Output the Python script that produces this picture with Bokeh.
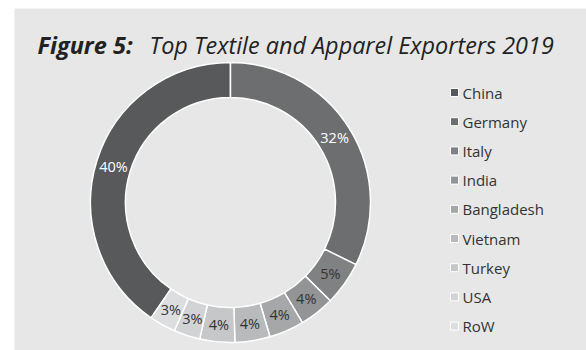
import numpy as np
from bokeh.plotting import figure
from bokeh.models import Range1d, ColumnDataSource
from bokeh.core.properties import value
from bokeh.embed import file_html
from bokeh.resources import INLINE

# ---- data ----
countries = ["China", "Germany", "Italy", "India", "Bangladesh", "Vietnam", "Turkey", "USA", "RoW"]
shares = [40, 32, 5, 4, 4, 4, 4, 3, 3]
labels = ["40%", "32%", "5%", "4%", "4%", "4%", "4%", "3%", "3%"]
colors = ["#58595b", "#6d6e70", "#808183", "#939496", "#a6a7a9",
          "#b9babc", "#c6c7c9", "#d2d3d5", "#dddee0"]
label_colors = ["white", "white", "#333333", "#333333", "#333333",
                "#333333", "#333333", "#333333", "#333333"]
title_bold = "Figure 5:"
title_rest = "Top Textile and Apparel Exporters 2019"

FONT = "Open Sans"
W, H = 586, 350

p = figure(width=W, height=H, output_backend="svg", toolbar_location=None,
           x_range=Range1d(14, W), y_range=Range1d(0, H - 8),
           min_border_left=14, min_border_top=8, min_border_right=0, min_border_bottom=0)
p.border_fill_color = "white"
p.background_fill_color = "#e6e7e6"
p.outline_line_color = None
p.xaxis.visible = False
p.yaxis.visible = False
p.grid.visible = False

# donut geometry (1 data unit = 1 px)
cx, cy = 230, H - 202
r_in, r_out = 105, 140

total = float(sum(shares))
vals = np.array(shares, dtype=float)
offset = -vals[0] / total
starts = offset + np.concatenate([[0], np.cumsum(vals)[:-1]]) / total
ends = starts + vals / total
start_ang = np.pi / 2 - starts * 2 * np.pi
end_ang = np.pi / 2 - ends * 2 * np.pi
mid = (start_ang + end_ang) / 2
r_lab = (r_in + r_out) / 2

src = ColumnDataSource(dict(
    country=countries, share=shares, label=labels, color=colors, lcolor=label_colors,
    start=start_ang, end=end_ang,
    lx=cx + r_lab * np.cos(mid), ly=cy + r_lab * np.sin(mid),
))

p.annular_wedge(x=cx, y=cy, inner_radius=r_in, outer_radius=r_out,
                start_angle="start", end_angle="end", direction="clock",
                fill_color="color", line_color="white", line_width=1.5, source=src)

p.text(x="lx", y="ly", text="label", text_color="lcolor", text_align="center",
       text_baseline="middle", text_font=value(FONT), text_font_size="14.5px", source=src)

# legend
n = len(countries)
leg_y = H - (92 + 29.2 * np.arange(n))
leg_src = ColumnDataSource(dict(country=countries, color=colors, y=leg_y,
                                x=[454] * n, tx=[462] * n))
p.rect(x="x", y="y", width=8, height=8, fill_color="color", line_color="white",
       line_width=1, source=leg_src)
p.text(x="tx", y="y", text="country", text_color="#333333", text_align="left",
       text_baseline="middle", text_font=value(FONT), text_font_size="15px", source=leg_src)

# title
p.text(x=[37], y=[H - 44], text=[title_bold], text_color="#222222",
       text_font=value(FONT), text_font_style="bold italic", text_font_size="23.5px",
       text_baseline="alphabetic")
p.text(x=[149], y=[H - 44], text=[title_rest], text_color="#222222",
       text_font=value(FONT), text_font_style="italic", text_font_size="23.4px",
       text_baseline="alphabetic")

open("out.html", "w").write(file_html(p, INLINE))
